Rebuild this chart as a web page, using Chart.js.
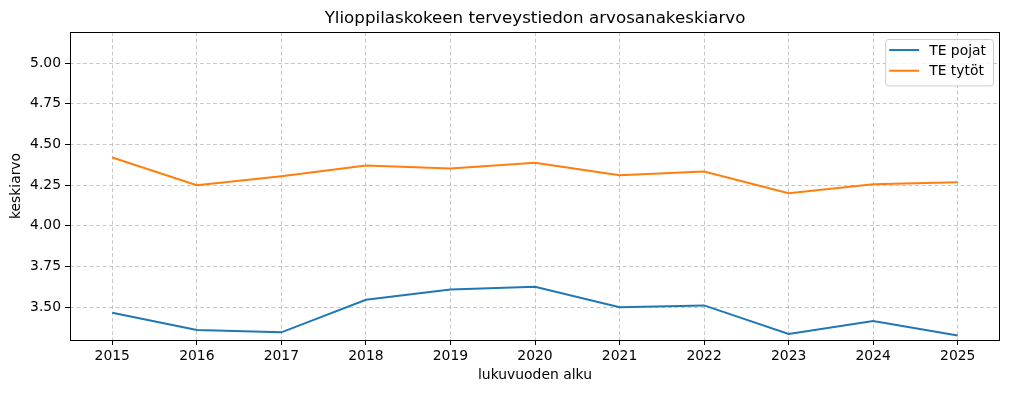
<!DOCTYPE html>
<html>
<head>
<meta charset="utf-8">
<script src="https://cdn.jsdelivr.net/npm/chart.js@4"></script>
<style>
  body { margin: 0; background: #fff; }
  canvas { display: block; }
</style>
</head>
<body>
<canvas id="chart" width="1009" height="393"></canvas>
<script>
// Data
const years = [2015, 2016, 2017, 2018, 2019, 2020, 2021, 2022, 2023, 2024, 2025];
const tePojat = [3.465, 3.359, 3.344, 3.545, 3.608, 3.625, 3.498, 3.510, 3.334, 3.414, 3.325];
const teTytot = [4.420, 4.250, 4.305, 4.370, 4.353, 4.387, 4.311, 4.334, 4.200, 4.256, 4.268];
const yTicks = [3.50, 3.75, 4.00, 4.25, 4.50, 4.75, 5.00];

const FONT = 'DejaVu Sans';
const GRID = 'rgba(176, 176, 176, 0.7)';

// Box around the plot (all four spines)
const frame = {
    id: 'frame',
    afterDraw(chart) {
        const { ctx, chartArea: a } = chart;
        ctx.save();
        ctx.strokeStyle = '#000';
        ctx.lineWidth = 1;
        ctx.strokeRect(Math.round(a.left) + 0.5, Math.round(a.top) + 0.5,
            Math.round(a.right - a.left) - 1, Math.round(a.bottom - a.top));
        ctx.restore();
    }
};

// Legend drawn inside the plot, upper right
const innerLegend = {
    id: 'innerLegend',
    afterDatasetsDraw(chart) {
        const { ctx, chartArea: a } = chart;
        const sets = chart.data.datasets;
        ctx.save();
        ctx.font = `13.9px "${FONT}"`;
        const textW = Math.max(...sets.map(d => ctx.measureText(d.label).width));
        const rowH = 20.7;
        const w = 4 + 30 + 10 + textW + 7;
        const h = rowH * sets.length + 5;
        const x = a.right - 7 - w;
        const y = a.top + 7;
        ctx.fillStyle = 'rgba(255,255,255,0.8)';
        ctx.strokeStyle = '#cccccc';
        ctx.lineWidth = 1;
        ctx.beginPath();
        ctx.roundRect(x + 0.5, y + 0.5, w, h, 3);
        ctx.fill();
        ctx.stroke();
        sets.forEach((d, i) => {
            const cy = y + 11 + i * rowH;
            ctx.strokeStyle = d.borderColor;
            ctx.lineWidth = 2;
            ctx.beginPath();
            ctx.moveTo(x + 4, cy);
            ctx.lineTo(x + 34, cy);
            ctx.stroke();
            ctx.fillStyle = '#000';
            ctx.textBaseline = 'middle';
            ctx.fillText(d.label, x + 44, cy + 1);
        });
        ctx.restore();
    }
};

new Chart(document.getElementById('chart'), {
    type: 'line',
    data: {
        datasets: [{
            label: 'TE pojat',
            data: years.map((x, i) => ({ x, y: tePojat[i] })),
            borderColor: '#1f77b4',
            backgroundColor: '#1f77b4',
            borderWidth: 2,
            pointRadius: 0,
            tension: 0
        }, {
            label: 'TE tytöt',
            data: years.map((x, i) => ({ x, y: teTytot[i] })),
            borderColor: '#ff7f0e',
            backgroundColor: '#ff7f0e',
            borderWidth: 2,
            pointRadius: 0,
            tension: 0
        }]
    },
    options: {
        responsive: false,
        animation: false,
        layout: { padding: { left: 0, right: 9, top: 0, bottom: 0 } },
        plugins: {
            legend: { display: false },
            tooltip: { enabled: false },
            title: {
                display: true,
                text: 'Ylioppilaskokeen terveystiedon arvosanakeskiarvo',
                fullSize: false,
                color: '#000',
                font: { family: FONT, size: 16.7, weight: 'normal' },
                padding: { top: 9, bottom: 3 }
            }
        },
        scales: {
            x: {
                type: 'linear',
                min: 2014.5,
                max: 2025.5,
                afterBuildTicks(scale) { scale.ticks = years.map(v => ({ value: v })); },
                afterFit(scale) { scale.height = 53; },
                ticks: {
                    color: '#000',
                    padding: 3,
                    font: { family: FONT, size: 13.9 },
                    callback: v => String(v)
                },
                grid: { color: GRID, lineWidth: 1, tickColor: '#000', tickLength: 5, tickWidth: 1 },
                border: { display: false, dash: [4, 2.5] },
                title: {
                    display: true,
                    text: 'lukuvuoden alku',
                    color: '#000',
                    font: { family: FONT, size: 13.9 },
                    padding: { top: 0, bottom: 9 }
                }
            },
            y: {
                min: 3.297,
                max: 5.192,
                afterBuildTicks(scale) { scale.ticks = yTicks.map(v => ({ value: v })); },
                afterFit(scale) { scale.width = 70; },
                ticks: {
                    color: '#000',
                    padding: 4,
                    font: { family: FONT, size: 13.9 },
                    callback: v => Number(v).toFixed(2)
                },
                grid: { color: GRID, lineWidth: 1, tickColor: '#000', tickLength: 5, tickWidth: 1 },
                border: { display: false, dash: [4, 2.5] },
                title: {
                    display: true,
                    text: 'keskiarvo',
                    color: '#000',
                    font: { family: FONT, size: 13.9 },
                    padding: { top: 8, bottom: 0 }
                }
            }
        }
    },
    plugins: [frame, innerLegend]
});
</script>
</body>
</html>
